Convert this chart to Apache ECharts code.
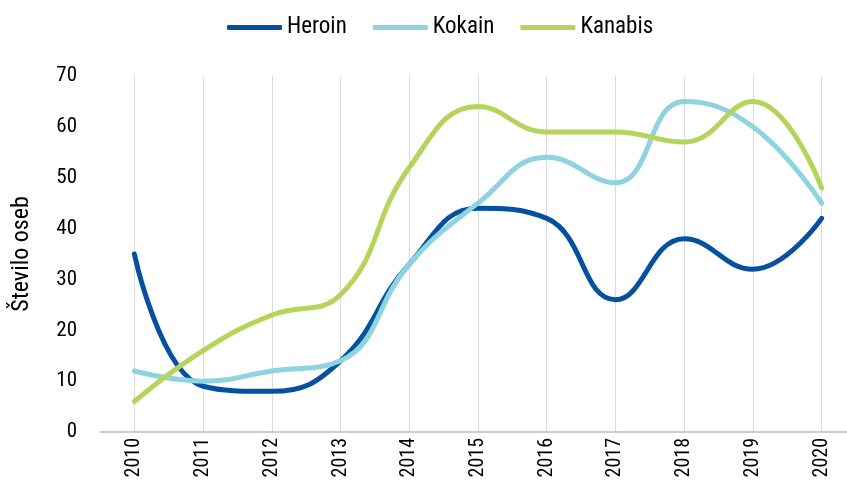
<!DOCTYPE html>
<html>
<head>
<meta charset="utf-8">
<script src="https://cdn.jsdelivr.net/npm/echarts@6/dist/echarts.min.js"></script>
<style>
  html, body { margin: 0; padding: 0; background: #fff; }
  #chart { width: 847px; height: 495px; }
</style>
</head>
<body>
<div id="chart"></div>
<script>
const years = ['2010', '2011', '2012', '2013', '2014', '2015', '2016', '2017', '2018', '2019', '2020']
const heroin = [35, 9, 8, 14, 33, 44, 42, 26, 38, 32, 42]
const kokain = [12, 10, 12, 14, 33, 45, 54, 49, 65, 60, 45]
const kanabis = [6, 16, 23, 27, 52, 64, 59, 59, 57, 65, 48]
const yTicks = [0, 10, 20, 30, 40, 50, 60, 70]

const font = '"Roboto Condensed", "Liberation Sans Narrow", Roboto, sans-serif'

const chart = echarts.init(document.getElementById('chart'))

function lineSeries(name, data, color) {
  return {
    name: name,
    type: 'line',
    data: data,
    smooth: 0.45,
    symbol: 'none',
    lineStyle: { color: color, width: 5, cap: 'round' },
    itemStyle: { color: color }
  }
}

chart.setOption({
  animation: false,
  textStyle: { fontFamily: font },
  legend: {
    left: 222,
    top: 11,
    itemWidth: 55,
    itemHeight: 5,
    itemGap: 26,
    icon: 'roundRect',
    textStyle: { fontSize: 23, color: '#000', fontFamily: font },
    data: ['Heroin', 'Kokain', 'Kanabis']
  },
  grid: { left: 100, right: -9, top: 76, bottom: 63, outerBoundsMode: 'none', containLabel: false },
  xAxis: {
    type: 'category',
    data: years,
    boundaryGap: true,
    axisLine: { lineStyle: { color: '#bfbfbf', width: 1.5 } },
    axisTick: { show: false },
    axisLabel: { rotate: 90, fontSize: 20, color: '#000', margin: 6, fontFamily: font },
    splitLine: { show: true, alignWithLabel: true, lineStyle: { color: '#dcdcdc', width: 1.2 } }
  },
  yAxis: {
    type: 'value',
    min: yTicks[0],
    max: yTicks[yTicks.length - 1],
    interval: 10,
    name: 'Število oseb',
    nameLocation: 'middle',
    nameGap: 66,
    nameRotate: 90,
    nameTextStyle: { fontSize: 24, color: '#000', fontFamily: font },
    axisLine: { show: false },
    axisTick: { show: false },
    splitLine: { show: false },
    axisLabel: { fontSize: 21, color: '#000', margin: 23, fontFamily: font }
  },
  series: [
    lineSeries('Heroin', heroin, '#0650a0'),
    lineSeries('Kokain', kokain, '#8dd3e0'),
    lineSeries('Kanabis', kanabis, '#b5d55a')
  ]
})
</script>
</body>
</html>
